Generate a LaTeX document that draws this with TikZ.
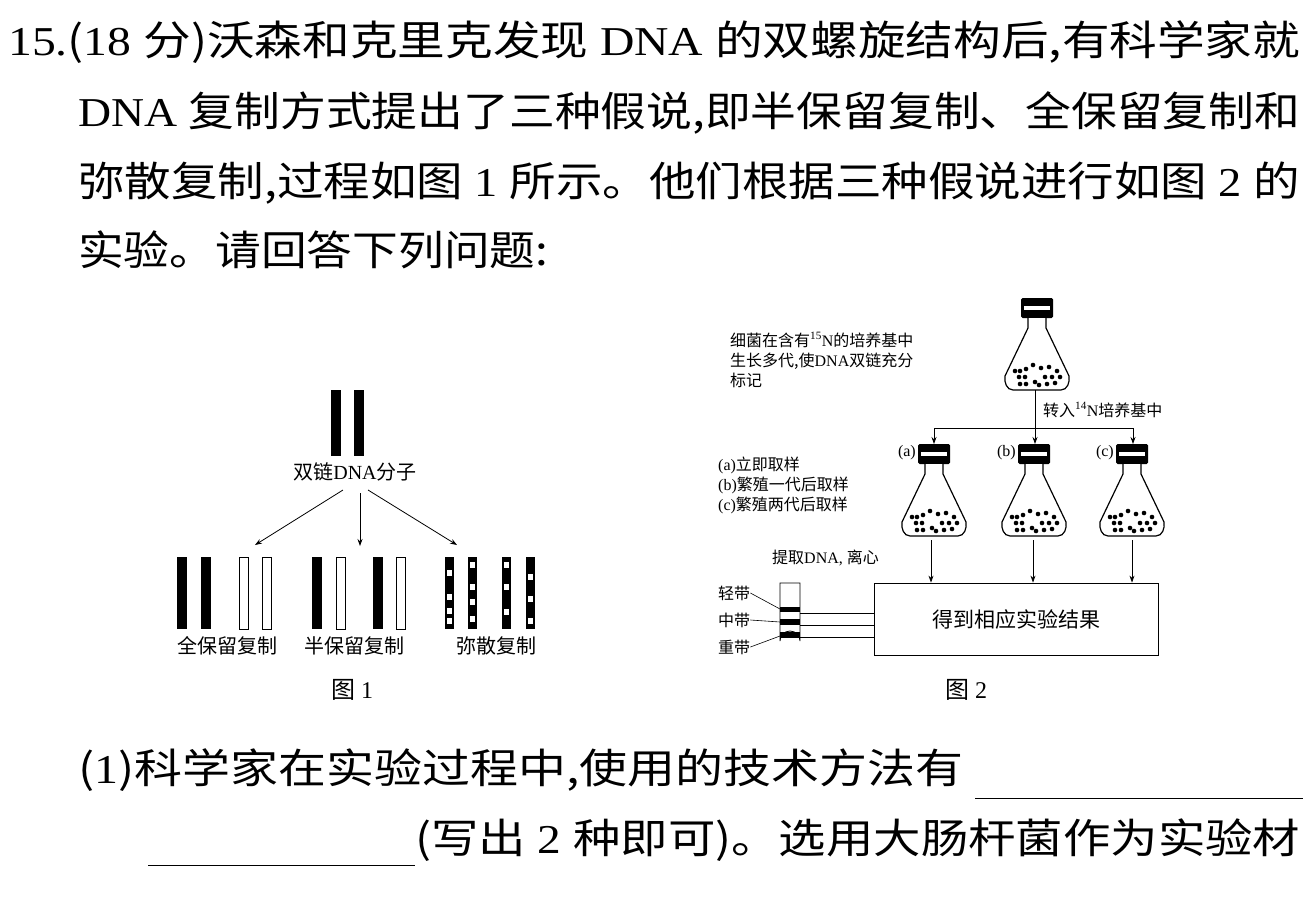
\documentclass[tikz,border=0pt]{standalone}
\usepackage{fontspec}
\usetikzlibrary{arrows.meta}
\newfontfamily\cjk{Noto Sans CJK SC}
\setmainfont{Liberation Serif}
\newcommand{\zh}[1]{{\cjk #1}}
\newcommand{\fitw}[2]{\resizebox{#1}{\height}{#2}}
\begin{document}
\begin{tikzpicture}[x=1pt,y=-1pt,
  big/.style={anchor=west,inner sep=0pt,font=\fontsize{41}{44}\selectfont},
  sm/.style={inner sep=0pt,font=\fontsize{16}{18}\selectfont},
  mid/.style={inner sep=0pt,font=\fontsize{20}{22}\selectfont},
  arr/.style={-{Stealth[length=7pt,width=5pt]},line width=0.8pt},
  blk/.style={fill=black},
  wht/.style={draw=black,line width=0.8pt,fill=white},
  flask/.pic={
    \fill[black,rounded corners=1.5pt] (-16,0) rectangle (16,20);
    \fill[white] (-13,8) rectangle (13,12);
    \draw[line width=1.2pt,fill=white] (-9,20) -- (-9,30) -- (-32,78) to[out=-100,in=180] (-24,92) -- (24,92) to[out=0,in=-80] (32,78) -- (9,30) -- (9,20);
    \foreach \p in {(-17,73),(-11,71),(-4,67),(4,70),(12,69),(20,73),(-18,79),(-12,79),(-2,84),(8,79),(15,79),(23,79),(-17,86),(-11,86),(2,87),(10,86),(18,85),(-22,73)}
      \fill \p circle (2.3pt);
  }]
\useasboundingbox (0,0) rectangle (1311,921);
% header text
\node[big] (l1) at (8,42) {\fitw{1292pt}{15.\zh{(}18 \zh{分)沃森和克里克发现} DNA \zh{的双螺旋结构后,有科学家就}}};
\node[big] (l2) at (78,113) {\fitw{1222pt}{DNA \zh{复制方式提出了三种假说,即半保留复制、全保留复制和}}};
\node[big] (l3) at (78,183) {\fitw{1222pt}{\zh{弥散复制,过程如图} 1 \zh{所示。他们根据三种假说进行如图} 2 \zh{的}}};
\node[big] (l4) at (78,250) {\fitw{470pt}{\zh{实验。请回答下列问题:}}};
\node[big] (l5) at (78,770) {\fitw{885pt}{\zh{(}1\zh{)科学家在实验过程中,使用的技术方法有}}};
\node[big] (l6) at (415,840) {\fitw{885pt}{\zh{(写出} 2 \zh{种即可)。选用大肠杆菌作为实验材}}};
\coordinate (u1a) at (975,798); \coordinate (u1b) at (1303,798);
\coordinate (u2a) at (148,865); \coordinate (u2b) at (415,865);
\draw[line width=0.8pt] (u1a) -- (u1b);
\draw[line width=0.8pt] (u2a) -- (u2b);
% figure 1
\fill[blk] (331,390) rectangle (341,456);
\fill[blk] (354,390) rectangle (364,456);
\node[mid] (dna) at (355,472) {\zh{双链}DNA\zh{分子}};
\coordinate (t1) at (255,545); \coordinate (t2) at (360,546); \coordinate (t3) at (457,545);
\draw[arr] (343,490) -- (t1);
\draw[arr] (360,493) -- (t2);
\draw[arr] (368,490) -- (t3);
\fill[blk] (177,557) rectangle (187,629);
\fill[blk] (201,557) rectangle (211,629);
\draw[wht] (239,557) rectangle (248,629);
\draw[wht] (262,557) rectangle (271,629);
\fill[blk] (312,557) rectangle (322,629);
\draw[wht] (336,557) rectangle (345,629);
\fill[blk] (373,557) rectangle (383,629);
\draw[wht] (396,557) rectangle (405,629);
\foreach \x/\ys in {445/{573,597,611,621},468/{565,587,602,619},502/{565,587,612},526/{577,599,621}}{
  \fill[blk] (\x,557) rectangle ++(9,72);
  \foreach \y in \ys \fill[white] (\x+2,\y-3) rectangle ++(5,6);
}
\node[mid] (n1) at (227,646) {\zh{全保留复制}};
\node[mid] (n2) at (354,646) {\zh{半保留复制}};
\node[mid] (n3) at (496,646) {\zh{弥散复制}};
\node[font=\fontsize{24}{26}\selectfont,inner sep=0pt] (f1) at (352,690) {\zh{图} 1};
% figure 2
\pic at (1037,298) {flask};
\node[sm,anchor=west,align=left] (desc) at (730,360) {\zh{细菌在含有}\textsuperscript{15}N\zh{的培养基中}\\[2pt]\zh{生长多代,使}DNA\zh{双链充分}\\[2pt]\zh{标记}};
\coordinate (j) at (1035,428);
\draw[line width=0.8pt] (1035,390) -- (j);
\draw[arr] (j) -| (934,444);
\draw[arr] (j) -- (1035,444);
\draw[arr] (j) -| (1133,444);
\node[sm,anchor=west] (to14) at (1043,410) {\zh{转入}\textsuperscript{14}N\zh{培养基中}};
\pic at (934,444) {flask};
\pic at (1034,444) {flask};
\pic at (1132,444) {flask};
\node[sm,anchor=east] (la) at (916,453) {(a)};
\node[sm,anchor=east] (lb) at (1016,453) {(b)};
\node[sm,anchor=east] (lc) at (1114,453) {(c)};
\node[sm,anchor=west,align=left] (steps) at (718,485) {(a)\zh{立即取样}\\[2pt](b)\zh{繁殖一代后取样}\\[2pt](c)\zh{繁殖两代后取样}};
\node[draw,line width=0.8pt,minimum width=284pt,minimum height=72pt,inner sep=0pt,font=\fontsize{21}{23}\selectfont] (box) at (1016,619) {\zh{得到相应实验结果}};
\draw[arr] (931,540) -- (box.north -| 931,0);
\draw[arr] (1033,540) -- (box.north -| 1033,0);
\draw[arr] (1132,540) -- (box.north -| 1132,0);
\node[sm,anchor=west] (ext) at (772,558) {\zh{提取}DNA, \zh{离心}};
% tube
\draw[line width=0.8pt,fill=white] (780,583) -- (780,641) arc[start angle=180,end angle=360,radius=10] -- (800,583) -- cycle;
\fill[black] (780,607) rectangle (800,612);
\fill[black] (780,619) rectangle (800,625);
\fill[black] (780,632) rectangle (800,638);
\draw[line width=0.8pt] (800,613) -- (box.west |- 0,613);
\draw[line width=0.8pt] (800,625) -- (box.west |- 0,625);
\draw[line width=0.8pt] (800,637) -- (box.west |- 0,637);
\node[sm,anchor=west] (b1) at (718,593) {\zh{轻带}};
\node[sm,anchor=west] (b2) at (718,620) {\zh{中带}};
\node[sm,anchor=west] (b3) at (718,647) {\zh{重带}};
\draw[line width=0.6pt] (b1.east) -- (780,609);
\draw[line width=0.6pt] (b2.east) -- (780,622);
\draw[line width=0.6pt] (b3.east) -- (780,636);
\node[font=\fontsize{24}{26}\selectfont,inner sep=0pt] (f2) at (966,690) {\zh{图} 2};
\end{tikzpicture}
\end{document}
